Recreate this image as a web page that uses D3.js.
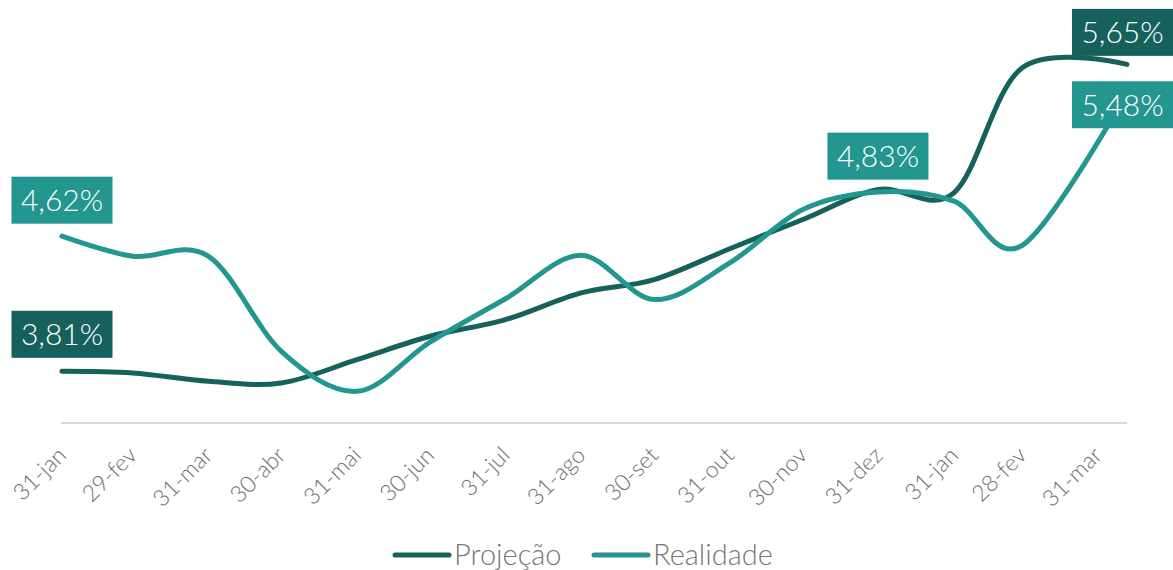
<!DOCTYPE html>
<html>
<head>
<meta charset="utf-8">
<script src="https://cdnjs.cloudflare.com/ajax/libs/d3/7.8.5/d3.min.js"></script>
<style>
  body { margin: 0; background: #fff; }
  svg { display: block; font-family: "Lato Light", Lato, "Open Sans", sans-serif; }
</style>
</head>
<body>
<div id="chart"></div>
<script>
(function() {

  var width = 1173,
      height = 570;

  var darkColor = "#17615d",
      tealColor = "#22968f";

  // month-end ticks shown under the axis
  var tickDates = ["2024-01-31", "2024-02-29", "2024-03-31", "2024-04-30", "2024-05-31",
                   "2024-06-30", "2024-07-31", "2024-08-31", "2024-09-30", "2024-10-31",
                   "2024-11-30", "2024-12-31", "2025-01-31", "2025-02-28", "2025-03-31"];
  var tickLabels = ["31-jan", "29-fev", "31-mar", "30-abr", "31-mai", "30-jun", "31-jul", "31-ago",
                    "30-set", "31-out", "30-nov", "31-dez", "31-jan", "28-fev", "31-mar"];

  // dates of the plotted points (last one sits past the 31-mar tick)
  var pointDates = ["2024-01-31", "2024-02-29", "2024-03-31", "2024-04-30", "2024-05-31",
                    "2024-06-30", "2024-07-31", "2024-08-31", "2024-09-30", "2024-10-31",
                    "2024-11-30", "2024-12-31", "2025-01-31", "2025-02-28", "2025-04-12"];

  var projecao  = [3.81, 3.80, 3.75, 3.74, 3.88, 4.02, 4.12, 4.28, 4.36, 4.545, 4.72, 4.90, 4.88, 5.63, 5.65];
  var realidade = [4.62, 4.50, 4.50, 3.93, 3.69, 3.985, 4.245, 4.505, 4.24, 4.46, 4.78, 4.885, 4.83, 4.565, 5.48];

  var parse = d3.timeParse("%Y-%m-%d");

  var series = [
    {name: "Projeção", key: "projecao", color: darkColor, values: projecao},
    {name: "Realidade", key: "realidade", color: tealColor, values: realidade}
  ];

  // which points get a value box, and how far the box is moved from the point
  var labels = [
    {key: "realidade", i: 0,  dx: 0,   dy: -36},
    {key: "projecao",  i: 0,  dx: 0,   dy: -37},
    {key: "realidade", i: 12, dx: -76, dy: -45},
    {key: "projecao",  i: 14, dx: 0,   dy: -32},
    {key: "realidade", i: 14, dx: 0,   dy: 12}
  ];

  var x = d3.scaleTime()
      .domain([parse(pointDates[0]), parse(pointDates[pointDates.length - 1])])
      .range([62, 1127]);

  var y = d3.scaleLinear()
      .domain([3.5, 6.0])
      .range([423, 6]);

  var svg = d3.select("#chart").append("svg")
      .attr("width", width)
      .attr("height", height);

  // axis baseline
  svg.append("line")
      .attr("x1", x.range()[0] - 1)
      .attr("x2", x.range()[1])
      .attr("y1", y(3.5))
      .attr("y2", y(3.5))
      .style("stroke", "#d9d9d9")
      .style("stroke-width", 2);

  svg.append("g")
      .attr("class", "ticks")
    .selectAll("text")
      .data(tickDates)
    .enter().append("text")
      .attr("transform", function(d) {
        return "translate(" + x(parse(d)) + "," + 451 + ")rotate(-45)";
      })
      .attr("text-anchor", "end")
      .attr("dy", "0.35em")
      .style("font-size", "23px")
      .style("font-weight", 300)
      .style("fill", "#6f6f6f")
      .text(function(d, i) { return tickLabels[i]; });

  var line = d3.line()
      .x(function(d, i) { return x(parse(pointDates[i])); })
      .y(function(d) { return y(d); })
      .curve(d3.curveCardinal.tension(0));

  svg.selectAll("path.serie")
      .data(series)
    .enter().append("path")
      .attr("class", "serie")
      .attr("d", function(d) { return line(d.values); })
      .style("fill", "none")
      .style("stroke", function(d) { return d.color; })
      .style("stroke-width", 5)
      .style("stroke-linecap", "round");

  var fmt = d3.format(".2f");
  var boxW = 101, boxH = 47;

  var lab = svg.selectAll("g.label")
      .data(labels)
    .enter().append("g")
      .attr("class", "label")
      .attr("transform", function(d) {
        var s = series.filter(function(e) { return e.key == d.key; })[0];
        var cx = x(parse(pointDates[d.i])) + d.dx;
        cx = Math.min(cx, width - boxW / 2);
        var cy = y(s.values[d.i]) + d.dy;
        d.serie = s;
        return "translate(" + cx + "," + cy + ")";
      });

  lab.append("rect")
      .attr("x", -boxW / 2)
      .attr("y", -boxH / 2)
      .attr("width", boxW)
      .attr("height", boxH)
      .style("fill", function(d) { return d.serie.color; });

  lab.append("text")
      .attr("text-anchor", "middle")
      .attr("dy", "0.36em")
      .style("fill", "#fff")
      .style("font-size", "30px")
      .style("font-weight", 300)
      .text(function(d) { return fmt(d.serie.values[d.i]).replace(".", ",") + "%"; });

  // legend
  var legend = svg.append("g")
      .attr("class", "legend")
      .selectAll("g")
      .data(series)
    .enter().append("g")
      .attr("transform", function(d, i) { return "translate(" + (i == 0 ? 395 : 594) + ",555)"; });

  legend.append("line")
      .attr("x1", 0)
      .attr("x2", 54)
      .style("stroke", function(d) { return d.color; })
      .style("stroke-width", 5)
      .style("stroke-linecap", "round");

  legend.append("text")
      .attr("x", 59)
      .attr("dy", "0.36em")
      .style("font-size", "29px")
      .style("font-weight", 300)
      .style("fill", "#767676")
      .text(function(d) { return d.name; });

})();
</script>
</body>
</html>
